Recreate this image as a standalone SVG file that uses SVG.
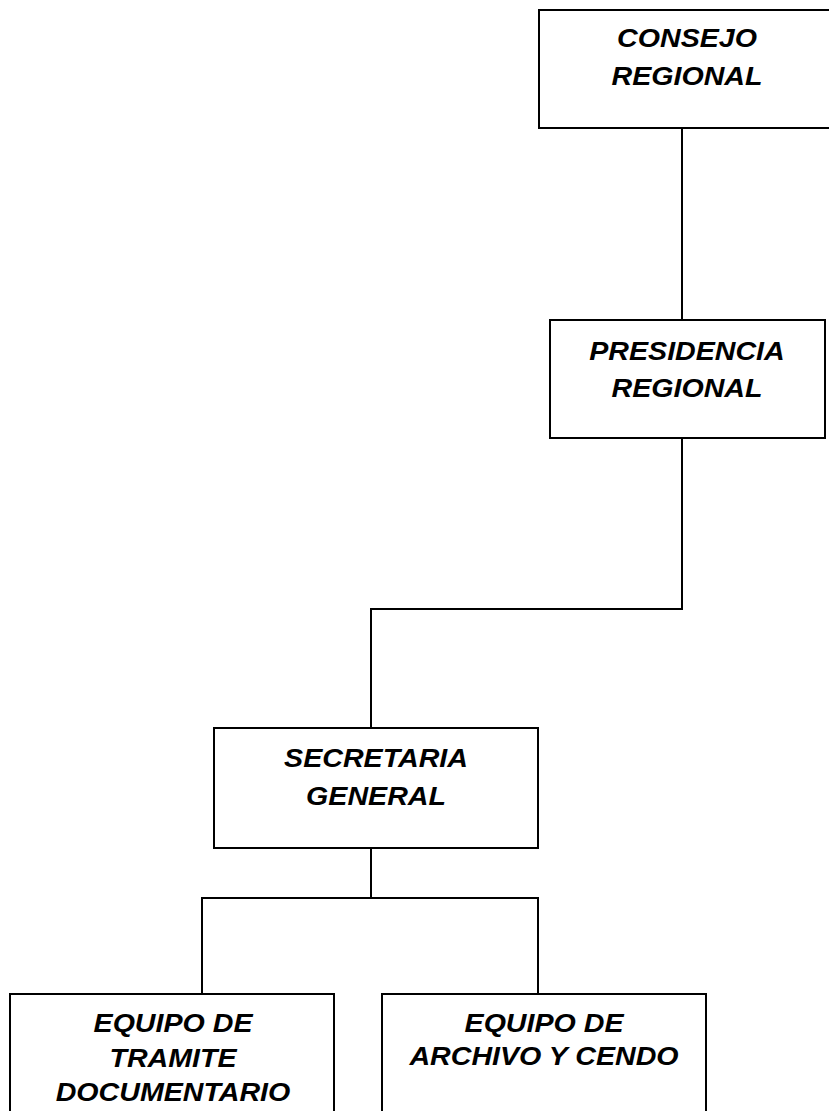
<svg xmlns="http://www.w3.org/2000/svg" width="829" height="1111" viewBox="0 0 829 1111">
<style>
.box{fill:#fff;stroke:#000;stroke-width:2}
.lbl{font-family:"Liberation Sans",Arial,sans-serif;font-weight:bold;font-style:italic;font-size:26px;text-anchor:middle;fill:#000}
.conn{fill:none;stroke:#000;stroke-width:2}
</style>
<rect width="829" height="1111" fill="#fff"/>
<g id="connectors">
<path class="conn" d="M682,128 V320"/>
<path class="conn" d="M682,438 V609 H371 V728"/>
<path class="conn" d="M371,848 V898"/>
<path class="conn" d="M202,994 V898 H538 V994"/>
</g>
<g id="consejo">
<rect class="box" x="539" y="10" width="300" height="118"/>
<text class="lbl" transform="translate(687,47) scale(1.1,1)">CONSEJO</text>
<text class="lbl" transform="translate(687,85) scale(1.1,1)">REGIONAL</text>
</g>
<g id="presidencia">
<rect class="box" x="550" y="320" width="275" height="118"/>
<text class="lbl" transform="translate(687,360) scale(1.1,1)">PRESIDENCIA</text>
<text class="lbl" transform="translate(687,397) scale(1.1,1)">REGIONAL</text>
</g>
<g id="secretaria">
<rect class="box" x="214" y="728" width="324" height="120"/>
<text class="lbl" transform="translate(376,767) scale(1.1,1)">SECRETARIA</text>
<text class="lbl" transform="translate(376,805) scale(1.1,1)">GENERAL</text>
</g>
<g id="tramite">
<rect class="box" x="10" y="994" width="324" height="130"/>
<text class="lbl" transform="translate(173,1032) scale(1.1,1)">EQUIPO DE</text>
<text class="lbl" transform="translate(173,1067) scale(1.1,1)">TRAMITE</text>
<text class="lbl" transform="translate(173,1101) scale(1.1,1)">DOCUMENTARIO</text>
</g>
<g id="archivo">
<rect class="box" x="382" y="994" width="324" height="130"/>
<text class="lbl" transform="translate(544,1032) scale(1.1,1)">EQUIPO DE</text>
<text class="lbl" transform="translate(544,1065) scale(1.1,1)">ARCHIVO Y CENDO</text>
</g>
</svg>
